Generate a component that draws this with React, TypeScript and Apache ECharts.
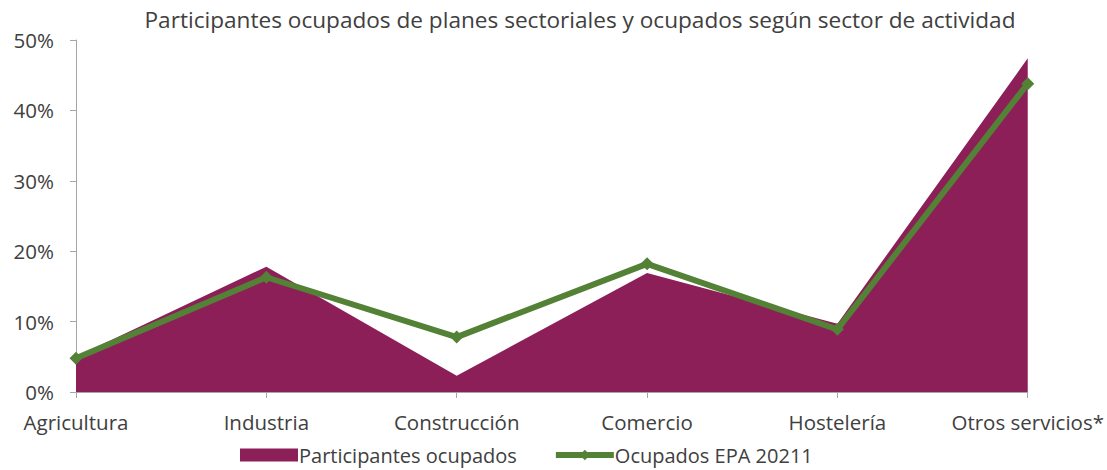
import React, { useEffect, useRef } from "react";
import * as echarts from "echarts";

const categories = ["Agricultura", "Industria", "Construcción", "Comercio", "Hostelería", "Otros servicios*"];
const participantes = [5.0, 17.8, 2.3, 16.9, 9.7, 47.4];
const ocupadosEPA = [4.8, 16.3, 7.8, 18.2, 8.9, 43.8];
const yTicks = [0, 10, 20, 30, 40, 50];

export default function App() {
  const ref = useRef<HTMLDivElement>(null);
  useEffect(() => {
    if (!ref.current) return;
    const chart = echarts.init(ref.current, null, { renderer: "svg" });
    const font = "'Open Sans', 'Liberation Sans', sans-serif";
    chart.setOption({
      animation: false,
      textStyle: { fontFamily: font },
      title: {
        text: "Participantes ocupados de planes sectoriales y ocupados según sector de actividad",
        left: 580,
        textAlign: "center",
        top: 8,
        padding: 0,
        textStyle: { fontSize: 22.6, fontWeight: "normal", color: "#404040", fontFamily: font },
      },
      grid: { left: 76, right: 77, top: 40, bottom: 78 },
      legend: {
        top: 445,
        left: 240,
        padding: 0,
        itemGap: 36,
        textStyle: { fontSize: 20, color: "#404040", fontFamily: font, padding: [0, 0, 0, -4] },
        data: [
          { name: "Participantes ocupados", icon: "rect", itemStyle: { color: "#8C1F58" } },
          { name: "Ocupados EPA 20211", lineStyle: { width: 6, color: "#538135" } },
        ],
        itemWidth: 58,
        itemHeight: 13,
      },
      xAxis: {
        type: "category",
        data: categories,
        boundaryGap: false,
        axisLine: { lineStyle: { color: "#a6a6a6", width: 1 } },
        axisTick: { show: true, alignWithLabel: true, length: 6, lineStyle: { color: "#a6a6a6" } },
        axisLabel: { interval: 0, fontSize: 20.5, color: "#404040", margin: 19, fontFamily: font },
      },
      yAxis: {
        type: "value",
        min: 0,
        max: 50,
        interval: 10,
        axisLine: { show: true, lineStyle: { color: "#a6a6a6", width: 1 } },
        axisTick: { show: true, length: 6, lineStyle: { color: "#a6a6a6" } },
        splitLine: { show: false },
        axisLabel: {
          fontSize: 20.5,
          color: "#404040",
          margin: 22,
          fontFamily: font,
          formatter: (v: number) => (yTicks.includes(v) ? v + "%" : ""),
        },
      },
      series: [
        {
          name: "Participantes ocupados",
          type: "line",
          data: participantes,
          symbol: "none",
          lineStyle: { width: 0 },
          itemStyle: { color: "#8C1F58" },
          areaStyle: { color: "#8C1F58", opacity: 1 },
          z: 1,
        },
        {
          name: "Ocupados EPA 20211",
          type: "line",
          data: ocupadosEPA,
          symbol: "diamond",
          symbolSize: 13,
          lineStyle: { width: 6, color: "#538135" },
          itemStyle: { color: "#538135" },
          z: 2,
        },
      ],
    });
    return () => chart.dispose();
  }, []);
  return <div ref={ref} style={{ position: "absolute", left: 0, top: 0, width: 1107, height: 470 }} />;
}
